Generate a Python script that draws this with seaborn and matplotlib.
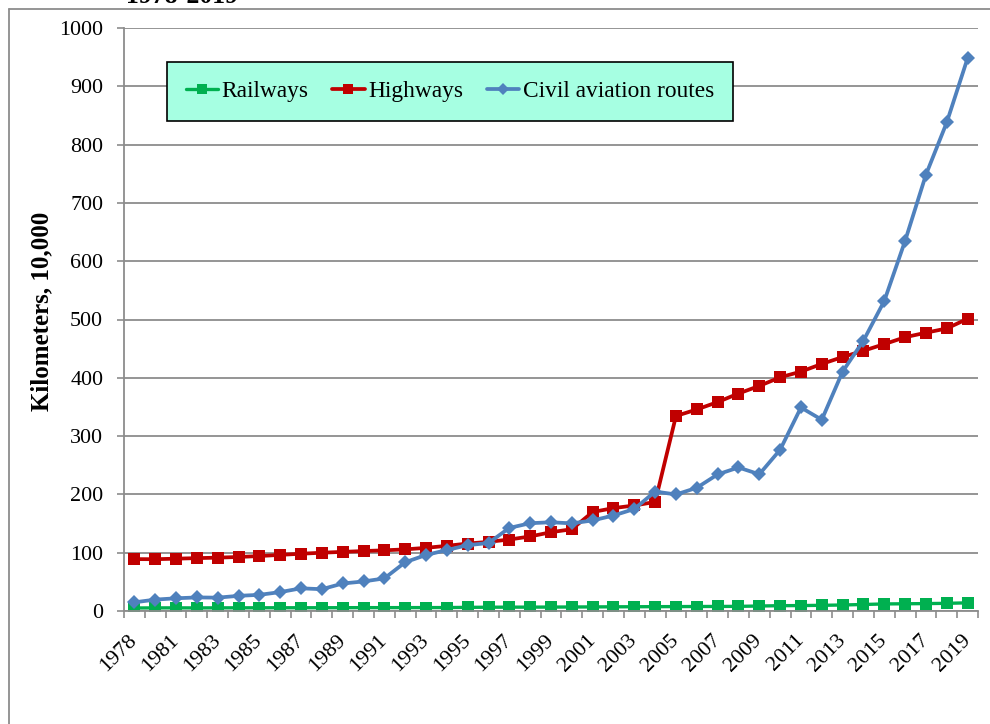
import numpy as np
import pandas as pd
import matplotlib
matplotlib.use("Agg")
import matplotlib.pyplot as plt
import seaborn as sns
from matplotlib.lines import Line2D

years = [1978] + list(range(1980, 2020))
tick_years = [1978] + list(range(1981, 2020, 2))

railways = [5.17, 5.33, 5.39, 5.29, 5.41, 5.45, 5.50, 5.58, 5.58, 5.61, 5.69,
            5.79, 5.78, 5.81, 5.86, 5.90, 6.24, 6.49, 6.60, 6.64, 6.74, 6.87,
            7.01, 7.19, 7.30, 7.44, 7.54, 7.71, 7.80, 7.97, 8.55, 9.12, 9.32,
            9.76, 10.31, 11.18, 12.10, 12.40, 12.70, 13.17, 13.99]
highways = [89.02, 88.83, 89.75, 90.70, 91.51, 92.67, 94.24, 96.28, 98.22, 99.96,
            101.43, 102.83, 104.11, 105.67, 108.35, 111.78, 115.70, 118.58, 122.64,
            127.85, 135.17, 140.27, 169.80, 176.52, 180.98, 187.07, 334.52, 345.70,
            358.37, 373.02, 386.08, 400.82, 410.64, 423.75, 435.62, 446.39, 457.73,
            469.63, 477.35, 484.65, 501.25]
aviation = [14.89, 19.53, 21.82, 23.27, 22.91, 26.02, 27.72, 32.43, 38.91, 37.38,
            47.19, 50.68, 55.91, 83.66, 96.08, 104.56, 112.90, 116.65, 142.50, 150.58,
            152.22, 150.29, 155.36, 163.77, 174.95, 204.94, 199.85, 211.35, 234.30,
            246.18, 234.51, 276.51, 349.06, 328.01, 410.60, 463.72, 531.72, 634.81,
            748.30, 837.98, 948.22]

series_names = ["Railways", "Highways", "Civil aviation routes"]
colors = {"Railways": "#00B050", "Highways": "#C00000", "Civil aviation routes": "#4F81BD"}

df = pd.DataFrame({"pos": np.arange(len(years)), "year": years,
                   "Railways": railways, "Highways": highways,
                   "Civil aviation routes": aviation})

sns.set_theme(style="white")
plt.rcParams["font.family"] = ["Liberation Serif", "DejaVu Serif"]
plt.rcParams["text.color"] = "black"
plt.rcParams["axes.labelcolor"] = "black"
plt.rcParams["xtick.color"] = "black"
plt.rcParams["ytick.color"] = "black"

fig = plt.figure(figsize=(9.9, 7.24), dpi=100)
ax = fig.add_axes([124/990, 1 - 611/724, (978-124)/990, (611-28)/724])

styles = {
    "Railways": dict(marker="s", markersize=9.3, linewidth=2.4),
    "Highways": dict(marker="s", markersize=9.3, linewidth=2.7),
    "Civil aviation routes": dict(marker="D", markersize=7.2, linewidth=2.7),
}
for name in series_names:
    sns.lineplot(data=df, x="pos", y=name, ax=ax, color=colors[name],
                 markeredgewidth=0, label=name, **styles[name])

ax.set_xlim(-0.5, len(years) - 0.5)
ax.set_ylim(0, 1000)
ax.set_yticks(np.arange(0, 1001, 100))
ax.yaxis.grid(True, color="#8C8C8C", linewidth=1.3)
ax.set_axisbelow(True)
for s in ["top", "right"]:
    ax.spines[s].set_visible(False)
for s in ["left", "bottom"]:
    ax.spines[s].set_color("#8C8C8C")
    ax.spines[s].set_linewidth(1.3)

tick_pos = [years.index(y) for y in tick_years]
ax.set_xticks(tick_pos)
ax.set_xticklabels([str(y) for y in tick_years], rotation=45, ha="right",
                   va="center", rotation_mode="anchor", fontsize=15.8)
ax.set_xticks(np.arange(-0.5, len(years), 1), minor=True)
ax.tick_params(axis="x", which="major", length=0, pad=19)
ax.tick_params(axis="x", which="minor", length=5, width=1.2, color="#8C8C8C", bottom=True)
ax.tick_params(axis="y", length=5, width=1.2, color="#8C8C8C", left=True, pad=10,
               labelsize=15.8)
ax.set_xlabel("")
ax.set_ylabel("Kilometers, 10,000", fontsize=18, fontweight="bold")
ax.yaxis.set_label_coords((53 - 124) / 854, (611 - 311) / 583)

handles = [Line2D([], [], color=colors[n], linewidth=styles[n]["linewidth"],
                  marker=styles[n]["marker"], markersize=styles[n]["markersize"] * 0.85,
                  markeredgewidth=0) for n in series_names]
leg = ax.legend(handles, series_names, loc="upper left", ncol=3,
                bbox_to_anchor=(167/990, 1 - 62/724), bbox_transform=fig.transFigure,
                borderaxespad=0, fontsize=16.8, frameon=True, fancybox=False,
                handlelength=1.4, handletextpad=0.15, columnspacing=1.0,
                borderpad=0.8)
frame = leg.get_frame()
frame.set_facecolor("#A6FFE2")
frame.set_edgecolor("black")
frame.set_linewidth(1.2)
frame.set_alpha(1)

# outer chart border
fig.add_artist(Line2D([9/990, 9/990], [0, 1 - 9/724], transform=fig.transFigure,
                      color="#8C8C8C", linewidth=1.3))
fig.add_artist(Line2D([9/990, 1], [1 - 9/724, 1 - 9/724], transform=fig.transFigure,
                      color="#8C8C8C", linewidth=1.3))
fig.text(182/990, 1 - 3/724, "1978-2019", ha="center", va="baseline",
         fontsize=18.5, fontweight="bold")

fig.savefig("out.png", dpi=100)
